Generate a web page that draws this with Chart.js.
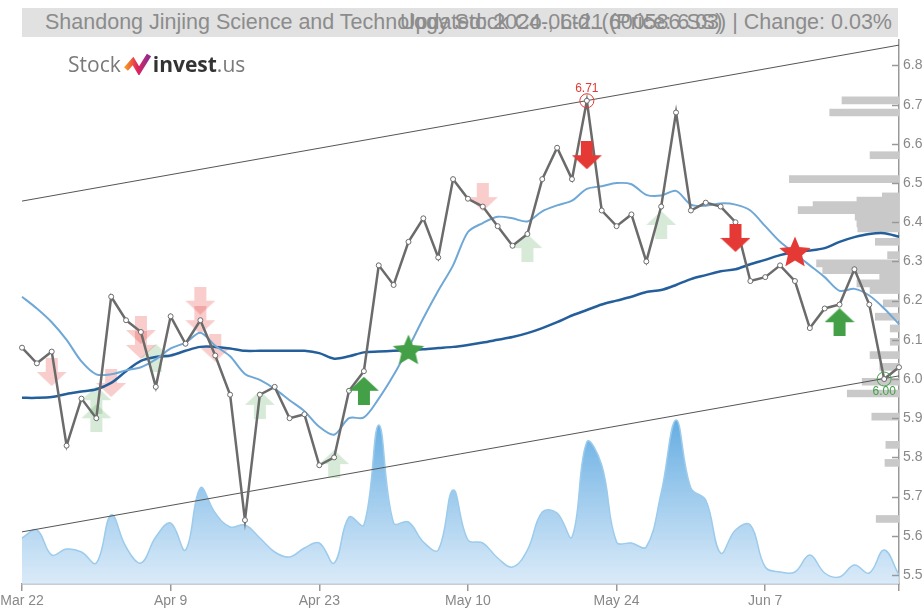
<!DOCTYPE html>
<html>
<head>
<meta charset="utf-8">
<script src="https://cdn.jsdelivr.net/npm/chart.js@4.4.1/dist/chart.umd.min.js"></script>
<style>
  html, body { margin: 0; padding: 0; background: #fff; }
  #wrap { position: relative; width: 923px; height: 610px; overflow: hidden; }
  #chart { position: absolute; left: 0; top: 0; }
  .titlebar { position: absolute; left: 22px; top: 8px; width: 876px; height: 29px; background: #e1e1e1; }
  .ttl { position: absolute; top: 8px; height: 29px; line-height: 29px; white-space: nowrap;
         font-family: "Liberation Sans Narrow", "Arial Narrow", "Liberation Sans", sans-serif;
         font-size: 21.5px; color: #8c8c8c; }
  #logo { position: absolute; left: 68px; top: 50px; font-family: "Open Sans", sans-serif; font-size: 21px; white-space: nowrap; }
  #logo svg { vertical-align: -3px; margin: 0 1px 0 3px; }
</style>
</head>
<body>
<div id="wrap">
  <canvas id="chart" width="923" height="610"></canvas>
  <div class="titlebar"></div>
  <div class="ttl" style="left:45px">Shandong Jinjing Science and Technology Stock Co., Ltd. (600586.SS)</div>
  <div class="ttl" style="right:31px">Updated: 2024-06-21 (Price: 6.03) | Change: 0.03%</div>
  <div id="logo"><span style="color:#7a7a7a">Stock</span><svg width="28" height="22" viewBox="0 0 28 22">
      <defs><linearGradient id="lg" x1="0" y1="0" x2="1" y2="0">
        <stop offset="0" stop-color="#f7941d"/><stop offset="0.5" stop-color="#e0245e"/><stop offset="1" stop-color="#8e2b8f"/>
      </linearGradient></defs>
      <path d="M2 16 L9 8 L15 18 L25 2" fill="none" stroke="url(#lg)" stroke-width="5" stroke-linejoin="miter"/>
    </svg><span style="color:#333;font-weight:700">invest</span><span style="color:#7a7a7a">.us</span></div>
</div>
<script>
// trading days shown on the x axis
const dates = [
  'Mar 22', 'Mar 25', 'Mar 26', 'Mar 27', 'Mar 28', 'Mar 29',
  'Apr 1', 'Apr 2', 'Apr 3', 'Apr 8', 'Apr 9', 'Apr 10', 'Apr 11', 'Apr 12',
  'Apr 15', 'Apr 16', 'Apr 17', 'Apr 18', 'Apr 19', 'Apr 22', 'Apr 23', 'Apr 24', 'Apr 25', 'Apr 26',
  'Apr 29', 'Apr 30', 'May 6', 'May 7', 'May 8', 'May 9', 'May 10',
  'May 13', 'May 14', 'May 15', 'May 16', 'May 17', 'May 20', 'May 21', 'May 22', 'May 23', 'May 24',
  'May 27', 'May 28', 'May 29', 'May 30', 'May 31', 'Jun 3', 'Jun 4', 'Jun 5', 'Jun 6', 'Jun 7',
  'Jun 11', 'Jun 12', 'Jun 13', 'Jun 14', 'Jun 17', 'Jun 18', 'Jun 19', 'Jun 20', 'Jun 21'
];
const xTickLabels = ['Mar 22', 'Apr 9', 'Apr 23', 'May 10', 'May 24', 'Jun 7', 'Jun 21'];
const xTickShown = ['Mar 22', 'Apr 9', 'Apr 23', 'May 10', 'May 24', 'Jun 7'];
const yTicks = [5.5, 5.6, 5.7, 5.8, 5.9, 6.0, 6.1, 6.2, 6.3, 6.4, 6.5, 6.6, 6.7, 6.8];

const closes = [
  6.08, 6.04, 6.07, 5.83, 5.95, 5.90, 6.21, 6.15, 6.12, 5.98,
  6.16, 6.09, 6.15, 6.06, 5.96, 5.64, 5.96, 5.98, 5.90, 5.91,
  5.78, 5.80, 5.97, 6.02, 6.29, 6.24, 6.35, 6.41, 6.31, 6.51,
  6.46, 6.44, 6.39, 6.34, 6.37, 6.51, 6.59, 6.51, 6.71, 6.43,
  6.39, 6.42, 6.30, 6.44, 6.68, 6.43, 6.45, 6.44, 6.40, 6.25,
  6.26, 6.29, 6.25, 6.13, 6.18, 6.19, 6.28, 6.19, 6.00, 6.03
];
const maShort = [
  6.21, 6.18, 6.145, 6.10, 6.045, 6.012, 6.012, 6.022, 6.03, 6.05,
  6.078, 6.093, 6.118, 6.085, 6.058, 6.013, 5.998, 5.975, 5.946, 5.918,
  5.878, 5.858, 5.90, 5.902, 5.95, 6.01, 6.08, 6.155, 6.225, 6.29,
  6.375, 6.398, 6.414, 6.41, 6.402, 6.428, 6.443, 6.455, 6.485, 6.492,
  6.50, 6.497, 6.47, 6.468, 6.48, 6.445, 6.442, 6.448, 6.445, 6.43,
  6.39, 6.35, 6.32, 6.29, 6.26, 6.225, 6.23, 6.213, 6.18, 6.14
];
const maLong = [
  5.952, 5.952, 5.954, 5.962, 5.968, 5.974, 5.99, 6.02, 6.046, 6.056,
  6.06, 6.072, 6.082, 6.082, 6.078, 6.072, 6.072, 6.072, 6.072, 6.072,
  6.066, 6.052, 6.058, 6.068, 6.07, 6.072, 6.074, 6.076, 6.079, 6.082,
  6.087, 6.093, 6.10, 6.107, 6.117, 6.13, 6.145, 6.162, 6.176, 6.19,
  6.20, 6.21, 6.222, 6.227, 6.24, 6.255, 6.265, 6.275, 6.28, 6.293,
  6.304, 6.316, 6.325, 6.328, 6.334, 6.35, 6.362, 6.37, 6.372, 6.363
];
// volume, millions of shares
const volumes = [
  4.6, 5.4, 2.9, 3.5, 3.2, 2.1, 6.9, 3.7, 2.1, 4.7,
  6.1, 3.4, 9.6, 7.1, 5.7, 5.9, 4.6, 3.2, 2.7, 3.6,
  4.1, 2.1, 6.7, 5.9, 15.9, 6.1, 6.2, 4.2, 3.4, 9.4,
  4.4, 4.1, 2.6, 1.7, 3.4, 7.2, 7.1, 4.7, 14.2, 11.9,
  4.2, 4.1, 3.7, 9.1, 16.4, 9.6, 8.4, 3.1, 5.4, 5.9,
  1.7, 1.2, 1.2, 2.9, 1.1, 0.7, 1.9, 1.1, 3.4, 0.9
];

// trend channel (start / end prices)
const channelUpper = [6.454, 6.852];
const channelLower = [5.610, 6.008];

// volume by price (right side)
const profilePrices = [
  6.711, 6.680, 6.571, 6.510, 6.466, 6.455, 6.444, 6.431, 6.414, 6.397,
  6.384, 6.350, 6.316, 6.295, 6.278, 6.261, 6.244, 6.227, 6.193, 6.159,
  6.129, 6.095, 6.061, 6.031, 5.993, 5.963, 5.904, 5.832, 5.786, 5.643
];
const profileVolumes = [
  6.5, 7.9, 3.3, 12.5, 1.9, 4.8, 9.8, 11.5, 5.0, 4.8,
  4.7, 2.7, 1.3, 9.4, 8.7, 2.2, 4.8, 3.3, 1.8, 2.7,
  1.0, 1.0, 3.3, 2.2, 4.2, 5.9, 3.1, 1.5, 1.6, 2.6
];

// signals
const buyIdx = [23, 55], buyPrice = [5.97, 6.145];
const sellIdx = [38, 48], sellPrice = [6.571, 6.36];
const buyStarIdx = [26], buyStarPrice = [6.074];
const sellStarIdx = [52], sellStarPrice = [6.324];
const weakSellIdx = [2, 6, 8, 8, 12, 12, 13, 31];
const weakSellPrice = [6.018, 5.99, 6.125, 6.087, 6.20, 6.15, 6.08, 6.464];
const weakBuyIdx = [5, 5, 9, 16, 21, 34, 43];
const weakBuyPrice = [5.946, 5.90, 6.054, 5.934, 5.783, 6.334, 6.393];

const extremeIdx = [38, 58];
const extremeText = ['6.71', '6.00'];

const RED = '#e53935', GREEN = '#43a047';
const FONT = '"Liberation Sans Narrow", "Arial Narrow", "Liberation Sans", sans-serif';

function arrow(color, up) {
  const c = document.createElement('canvas');
  c.width = 30; c.height = 28;
  const g = c.getContext('2d');
  g.fillStyle = color;
  g.beginPath();
  if (up) {
    g.moveTo(15, 0); g.lineTo(30, 14); g.lineTo(21, 14); g.lineTo(21, 28);
    g.lineTo(9, 28); g.lineTo(9, 14); g.lineTo(0, 14);
  } else {
    g.moveTo(15, 28); g.lineTo(30, 14); g.lineTo(21, 14); g.lineTo(21, 0);
    g.lineTo(9, 0); g.lineTo(9, 14); g.lineTo(0, 14);
  }
  g.closePath();
  g.fill();
  return c;
}

function star(color) {
  const c = document.createElement('canvas');
  c.width = 34; c.height = 34;
  const g = c.getContext('2d');
  g.fillStyle = color;
  g.beginPath();
  for (let i = 0; i < 10; i++) {
    const r = i % 2 ? 7.5 : 16.5;
    const a = -Math.PI / 2 + i * Math.PI / 5;
    g.lineTo(17 + r * Math.cos(a), 18 + r * Math.sin(a));
  }
  g.closePath();
  g.fill();
  return c;
}

const pts = (idx, prices) => idx.map((i, k) => ({ x: dates[i], y: prices[k] }));

function markerSet(idx, prices, img, order) {
  return {
    type: 'line', data: pts(idx, prices), showLine: false,
    pointStyle: img, pointRadius: 10, order: order
  };
}

const yTickMarks = {
  id: 'yTickMarks',
  afterDraw(chart) {
    const { ctx, chartArea, scales } = chart;
    ctx.save();
    ctx.strokeStyle = '#999';
    ctx.lineWidth = 1.5;
    yTicks.forEach(v => {
      const y = Math.round(scales.y.getPixelForValue(v)) + 0.5;
      ctx.beginPath();
      ctx.moveTo(chartArea.right - 7, y);
      ctx.lineTo(chartArea.right, y);
      ctx.stroke();
    });
    ctx.restore();
  }
};

const extremeLabels = {
  id: 'extremeLabels',
  afterDatasetsDraw(chart) {
    const { ctx, scales } = chart;
    ctx.save();
    ctx.font = '12px ' + FONT;
    ctx.textAlign = 'center';
    extremeIdx.forEach((i, k) => {
      const x = scales.x.getPixelForValue(i);
      const y = scales.y.getPixelForValue(closes[i]);
      const high = k === 0;
      ctx.fillStyle = high ? RED : GREEN;
      ctx.textBaseline = high ? 'bottom' : 'top';
      ctx.fillText(extremeText[k], x, high ? y - 6 : y + 7);
    });
    ctx.restore();
  }
};

new Chart(document.getElementById('chart'), {
  type: 'line',
  data: {
    labels: dates,
    datasets: [
      markerSet(buyIdx, buyPrice, arrow(GREEN, true), 0),
      markerSet(sellIdx, sellPrice, arrow(RED, false), 0),
      markerSet(buyStarIdx, buyStarPrice, star(GREEN), 0),
      markerSet(sellStarIdx, sellStarPrice, star(RED), 0),
      {
        type: 'line', data: pts(extremeIdx, extremeIdx.map(i => closes[i])), showLine: false,
        pointRadius: 7, pointBorderWidth: 1, pointBackgroundColor: 'rgba(0,0,0,0)',
        pointBorderColor: [RED, GREEN], order: 1
      },
      {
        label: 'Close', data: closes, borderColor: '#6b6b6b', borderWidth: 2.5,
        pointRadius: 2.5, pointBorderWidth: 1, pointBackgroundColor: '#fff',
        pointBorderColor: '#6b6b6b', tension: 0, order: 2
      },
      {
        label: 'MA short', data: maShort, borderColor: '#6fa7d6', borderWidth: 2,
        pointRadius: 0, tension: 0.3, order: 3
      },
      {
        label: 'MA long', data: maLong, borderColor: '#255f9b', borderWidth: 2.5,
        pointRadius: 0, tension: 0.3, order: 4
      },
      markerSet(weakSellIdx, weakSellPrice, arrow('rgba(229,57,53,0.25)', false), 5),
      markerSet(weakBuyIdx, weakBuyPrice, arrow('rgba(67,160,71,0.22)', true), 5),
      {
        data: [{ x: dates[0], y: channelUpper[0] }, { x: dates[dates.length - 1], y: channelUpper[1] }],
        borderColor: '#555', borderWidth: 1, pointRadius: 0, order: 6
      },
      {
        data: [{ x: dates[0], y: channelLower[0] }, { x: dates[dates.length - 1], y: channelLower[1] }],
        borderColor: '#555', borderWidth: 1, pointRadius: 0, order: 6
      },
      {
        type: 'bar', indexAxis: 'y', xAxisID: 'xProf', yAxisID: 'y',
        data: profilePrices.map((p, k) => ({ x: profileVolumes[k], y: p })),
        backgroundColor: '#c9c9c9', barThickness: 7, grouped: false, order: 7
      },
      {
        label: 'Volume', data: volumes, yAxisID: 'yVol', fill: 'origin',
        borderColor: '#9ccbec', borderWidth: 1.5, pointRadius: 0, tension: 0.4, order: 8,
        backgroundColor: (c) => {
          const a = c.chart.chartArea;
          if (!a) return 'rgba(120,180,230,0.5)';
          const g = c.chart.ctx.createLinearGradient(0, a.bottom - 170, 0, a.bottom);
          g.addColorStop(0, 'rgba(88,166,224,0.95)');
          g.addColorStop(1, 'rgba(212,231,247,0.85)');
          return g;
        }
      }
    ]
  },
  options: {
    responsive: false,
    animation: false,
    devicePixelRatio: 1,
    layout: { padding: { top: 40, left: 0, right: 0, bottom: 0 } },
    plugins: { legend: { display: false }, tooltip: { enabled: false } },
    scales: {
      x: {
        type: 'category', offset: false,
        afterBuildTicks: s => { s.ticks = xTickLabels.map(l => ({ value: dates.indexOf(l) })); },
        afterFit: s => { s.paddingLeft = 22; s.paddingRight = 0; s.height = 26; },
        ticks: {
          autoSkip: false, maxRotation: 0, padding: 2, color: '#888',
          font: { family: FONT, size: 14 },
          callback: v => xTickShown.includes(dates[v]) ? dates[v] : ''
        },
        grid: { drawOnChartArea: false, drawTicks: true, tickLength: 7, color: '#999', lineWidth: 1.5 },
        border: { color: '#999', width: 1.5 }
      },
      y: {
        type: 'linear', position: 'right', min: 5.477, max: 6.865, offset: false,
        afterBuildTicks: s => { s.ticks = yTicks.map(v => ({ value: v })); },
        afterFit: s => { s.width = 24; },
        ticks: { padding: 4, color: '#888', font: { family: FONT, size: 14 }, callback: v => v.toFixed(1) },
        grid: { drawOnChartArea: false, drawTicks: false, offset: false },
        border: { color: '#999', width: 1.5 }
      },
      yVol: { type: 'linear', axis: 'y', display: false, min: 0, max: 54.4 },
      xProf: { type: 'linear', axis: 'x', display: false, reverse: true, min: 0, max: 100 }
    }
  },
  plugins: [yTickMarks, extremeLabels]
});
</script>
</body>
</html>
